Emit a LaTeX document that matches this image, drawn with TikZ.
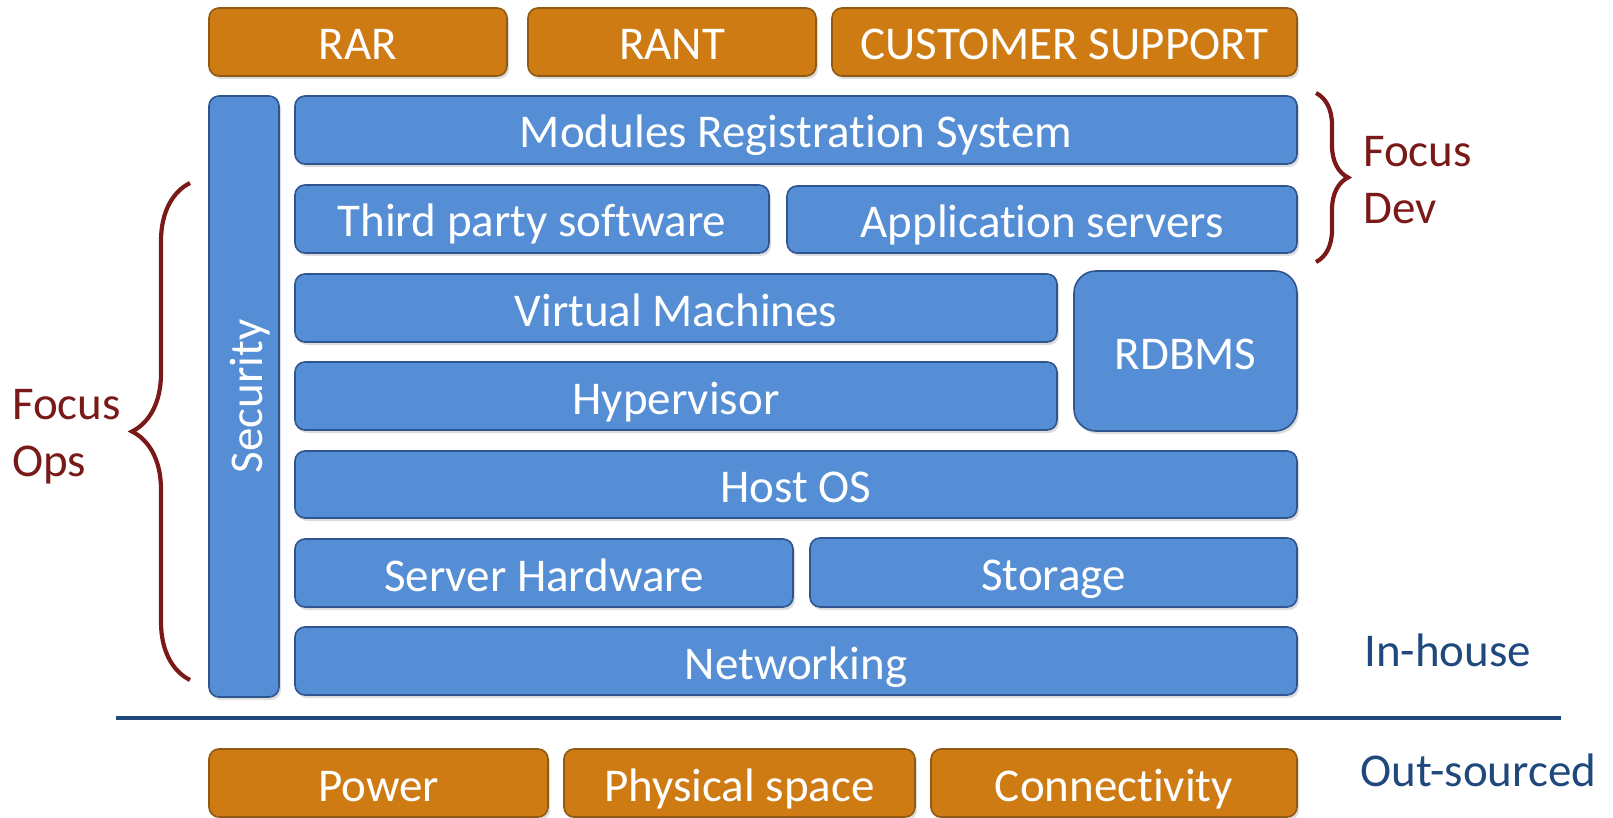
\documentclass[tikz,border=0pt]{standalone}
\usepackage{fontspec}
\setmainfont{Carlito}[Ligatures=NoCommon]
\usetikzlibrary{shadows,decorations.pathreplacing}

\definecolor{layerfill}{HTML}{558ED5}
\definecolor{layeredge}{HTML}{2E5590}
\definecolor{extfill}{HTML}{CF7B13}
\definecolor{extedge}{HTML}{8E5A14}
\definecolor{focuscol}{HTML}{7A1A18}
\definecolor{sidecol}{HTML}{1F497D}

\tikzset{
  boxfont/.style={font=\fontsize{47}{56}\selectfont, text height=40pt, text depth=4pt},
  basebox/.style={rounded corners=10pt, line width=1.6pt, inner sep=0pt,
    text=white, boxfont,
    drop shadow={shadow xshift=2pt, shadow yshift=-3pt, opacity=0.22, fill=black!60}},
  layer/.style={basebox, fill=layerfill, draw=layeredge},
  ext/.style={basebox, fill=extfill, draw=extedge},
  sidetext/.style={anchor=west, align=left, inner sep=0pt, font=\fontsize{47}{57}\selectfont},
  bracepath/.style={draw=focuscol, line width=4.2pt, decorate},
}

\newcommand\boxat[6]{\node[#1, minimum width=#5, minimum height=#6] (#2) at (#3,#4)}

\begin{document}
\begin{tikzpicture}[x=1pt, y=-1pt]
  \useasboundingbox (0,0) rectangle (1613,818);

  % services on top of the stack
  \boxat{ext}{rar}{358}{42}{298pt}{68pt}{RAR};
  \boxat{ext}{rant}{672}{42}{288pt}{68pt}{RANT};
  \boxat{ext}{cust}{1064.5}{42}{465pt}{68pt}{CUSTOMER SUPPORT};

  % security column
  \boxat{layer}{sec}{244}{396.5}{70pt}{601pt}{};
  \node[rotate=90, text=white, inner sep=0pt, boxfont] (sectext) at (sec.center) {Security};

  % in-house stack
  \boxat{layer}{mrs}{796}{130}{1002pt}{68pt}{Modules Registration System};
  \boxat{layer}{third}{532}{219}{474pt}{68pt}{Third party software};
  \boxat{layer}{apps}{1042}{219.5}{510pt}{67pt}{Application servers};
  \boxat{layer}{vm}{676}{308}{762pt}{68pt}{Virtual Machines};
  \boxat{layer,rounded corners=22pt}{rdbms}{1185.5}{351}{223pt}{160pt}{RDBMS};
  \boxat{layer}{hyp}{676}{396}{762pt}{68pt}{Hypervisor};
  \boxat{layer}{host}{796}{484.5}{1002pt}{67pt}{Host OS};
  \boxat{layer}{hw}{544}{573}{498pt}{68pt}{Server Hardware};
  \boxat{layer}{stor}{1053.5}{572.5}{487pt}{69pt}{Storage};
  \boxat{layer}{net}{796}{661}{1002pt}{68pt}{Networking};

  % boundary between in-house and out-sourced
  \coordinate (divl) at (116,718);
  \coordinate (divr) at (1561,718);
  \draw[sidecol, line width=4pt] (divl) -- (divr);

  % out-sourced services
  \boxat{ext}{power}{378.5}{783}{339pt}{68pt}{Power};
  \boxat{ext}{phys}{739.5}{783}{351pt}{68pt}{Physical space};
  \boxat{ext}{conn}{1114}{783}{366pt}{68pt}{Connectivity};

  % focus braces
  \coordinate (devtop) at (1316,93);
  \coordinate (devbot) at (1316,262);
  \draw[bracepath, decoration={brace, amplitude=32pt}] (devtop) -- (devbot);
  \coordinate (opsbot) at (190,680);
  \coordinate (opstop) at (190,183);
  \draw[bracepath, decoration={brace, amplitude=58pt}] (opsbot) -- (opstop);

  % side labels
  \node[sidetext, text=focuscol] (dev) at (1363,180.5) {Focus\\Dev};
  \node[sidetext, text=focuscol] (ops) at (12,436.5) {Focus\\Ops};
  \node[sidetext, text=sidecol] (inh) at (1364,650) {In-house};
  \node[sidetext, text=sidecol] (outs) at (1360,770) {Out-sourced};
\end{tikzpicture}
\end{document}
